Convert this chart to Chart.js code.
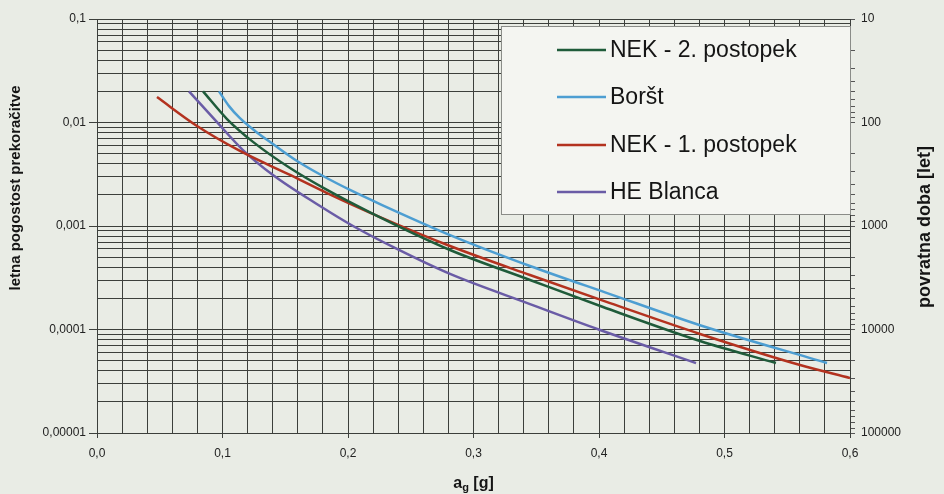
<!DOCTYPE html>
<html>
<head>
<meta charset="utf-8">
<script src="https://cdn.jsdelivr.net/npm/chart.js@4/dist/chart.umd.min.js"></script>
<style>
    html, body { margin: 0; padding: 0; background: #e9ece5; }
    #wrap { width: 944px; height: 494px; position: relative; }
</style>
</head>
<body>
<div id="wrap"><canvas id="chart" width="944" height="494"></canvas></div>
<script>
// ===============================
// DATA
// ===============================
const seriesNames = ["NEK - 2. postopek", "Boršt", "NEK - 1. postopek", "HE Blanca"];
const seriesColors = ["#1f5b3a", "#4d9ed2", "#b3321f", "#6a5ca6"];

// a_g [g] -> letna pogostost prekoračitve
const nek2X = [0.0845, 0.1036, 0.1243, 0.1538, 0.1833, 0.2199, 0.2813, 0.345, 0.4032, 0.4805, 0.541];
const nek2Y = [0.02, 0.0108, 0.0065, 0.00363, 0.00223, 0.00131, 0.000586, 0.000301, 0.000165, 0.0000774, 0.0000474];

const borstX = [0.0972, 0.1052, 0.1139, 0.1259, 0.1402, 0.1594, 0.1801, 0.2016, 0.2255, 0.2813, 0.345, 0.4088, 0.4805, 0.5817];
const borstY = [0.02, 0.0144, 0.011, 0.00828, 0.00619, 0.00425, 0.00304, 0.00223, 0.00163, 0.000818, 0.000411, 0.00022, 0.00011, 0.0000474];

const nek1X = [0.0478, 0.0797, 0.1139, 0.1538, 0.1833, 0.2255, 0.2813, 0.345, 0.4088, 0.4805, 0.5602, 0.6];
const nek1Y = [0.0176, 0.00925, 0.00531, 0.00311, 0.00208, 0.00122, 0.000641, 0.000336, 0.00018, 0.0000906, 0.0000454, 0.000034];

const blancaX = [0.0733, 0.094, 0.1163, 0.1402, 0.1777, 0.204, 0.239, 0.2813, 0.345, 0.4008, 0.4773];
const blancaY = [0.02, 0.0106, 0.00542, 0.00311, 0.00156, 0.001, 0.0006, 0.000344, 0.000176, 0.0000989, 0.0000474];

// tick labels
const xTickLabels = ["0,0", "0,1", "0,2", "0,3", "0,4", "0,5", "0,6"];
const yMajorValues = [0.1, 0.01, 0.001, 0.0001, 0.00001];
const yTickLabels = ["0,1", "0,01", "0,001", "0,0001", "0,00001"];
const periodValues = [10, 100, 1000, 10000, 100000];
const periodLabels = ["10", "100", "1000", "10000", "100000"];

const FONT = "'Liberation Sans', Arial, sans-serif";
const GRID = "#3c3f3b";

// ===============================
// HELPERS
// ===============================
function toPoints(xs, ys) {
    return xs.map((x, i) => ({ x: x, y: ys[i] }));
}

// 1..9 x 10^n med glavnimi vrednostmi
function logTicks(majors) {
    const sorted = majors.slice().sort((a, b) => a - b);
    const ticks = [];
    for (let i = 0; i < sorted.length - 1; i++) {
        for (let m = 1; m < 10; m++) {
            ticks.push({ value: parseFloat((m * sorted[i]).toPrecision(6)) });
        }
    }
    ticks.push({ value: sorted[sorted.length - 1] });
    return ticks;
}

function majorIndex(list, v) {
    return list.findIndex(m => Math.abs(v / m - 1) < 1e-6);
}

function isTenth(v) {
    return Math.abs(v * 10 - Math.round(v * 10)) < 1e-6;
}

// ===============================
// PLUGIN: naslovi osi + legenda
// ===============================
const decorPlugin = {
    id: "decor",
    afterDraw(chart) {
        const ctx = chart.ctx;
        const area = chart.chartArea;
        ctx.save();
        ctx.fillStyle = "#151515";

        // levi naslov
        ctx.save();
        ctx.translate(16, 188);
        ctx.rotate(-Math.PI / 2);
        ctx.font = "bold 15px " + FONT;
        ctx.textAlign = "center";
        ctx.textBaseline = "middle";
        ctx.fillText("letna pogostost prekoračitve", 0, 0);
        ctx.restore();

        // desni naslov
        ctx.save();
        ctx.translate(925, 227);
        ctx.rotate(-Math.PI / 2);
        ctx.font = "bold 18px " + FONT;
        ctx.textAlign = "center";
        ctx.textBaseline = "middle";
        ctx.fillText("povratna doba [let]", 0, 0);
        ctx.restore();

        // a_g [g]
        ctx.textBaseline = "alphabetic";
        ctx.textAlign = "left";
        ctx.font = "bold 16px " + FONT;
        const wA = ctx.measureText("a").width;
        const wRest = ctx.measureText(" [g]").width;
        ctx.font = "bold 11px " + FONT;
        const wSub = ctx.measureText("g").width;
        let tx = (area.left + area.right) / 2 - (wA + wSub + wRest) / 2;
        const ty = 488;
        ctx.font = "bold 16px " + FONT;
        ctx.fillText("a", tx, ty);
        ctx.font = "bold 11px " + FONT;
        ctx.fillText("g", tx + wA, ty + 3);
        ctx.font = "bold 16px " + FONT;
        ctx.fillText(" [g]", tx + wA + wSub, ty);

        // legenda
        const box = { left: 501, top: 26, right: area.right + 1, bottom: 215 };
        ctx.fillStyle = "#f4f5f1";
        ctx.fillRect(box.left, box.top, box.right - box.left, box.bottom - box.top);
        ctx.strokeStyle = "#8a8c88";
        ctx.lineWidth = 1;
        ctx.strokeRect(box.left + 0.5, box.top + 0.5, box.right - box.left - 1, box.bottom - box.top - 1);

        const rows = [50, 97, 145, 192];
        ctx.font = "23px " + FONT;
        ctx.textBaseline = "middle";
        chart.data.datasets.forEach((ds, i) => {
            ctx.strokeStyle = ds.borderColor;
            ctx.lineWidth = 2.5;
            ctx.beginPath();
            ctx.moveTo(557, rows[i]);
            ctx.lineTo(606, rows[i]);
            ctx.stroke();
            ctx.fillStyle = "#151515";
            ctx.fillText(ds.label, 610, rows[i] + 1);
        });
        ctx.restore();
    }
};

// ===============================
// CHART
// ===============================
const seriesData = [
    toPoints(nek2X, nek2Y),
    toPoints(borstX, borstY),
    toPoints(nek1X, nek1Y),
    toPoints(blancaX, blancaY)
];

new Chart(document.getElementById("chart"), {
    type: "line",
    data: {
        datasets: seriesNames.map((name, i) => ({
            label: name,
            data: seriesData[i],
            borderColor: seriesColors[i],
            borderWidth: 2.5,
            pointRadius: 0,
            fill: false,
            cubicInterpolationMode: "monotone",
            xAxisID: "x",
            yAxisID: "y"
        }))
    },
    options: {
        responsive: false,
        animation: false,
        layout: { padding: { top: 19, left: 0, right: 0, bottom: 0 } },
        plugins: {
            legend: { display: false },
            tooltip: { enabled: false }
        },
        scales: {
            x: {
                type: "linear",
                min: 0,
                max: 0.6,
                ticks: {
                    stepSize: 0.02,
                    autoSkip: false,
                    maxRotation: 0,
                    padding: 8,
                    color: "#222",
                    font: { size: 12, family: FONT },
                    callback: v => isTenth(v) ? xTickLabels[Math.round(v * 10)] : ""
                },
                grid: {
                    color: GRID,
                    lineWidth: 1,
                    tickLength: 5,
                    tickColor: c => (c.tick && isTenth(c.tick.value)) ? GRID : "rgba(0,0,0,0)"
                },
                border: { color: GRID },
                afterFit: s => { s.height = 61; }
            },
            y: {
                type: "logarithmic",
                position: "left",
                min: 0.00001,
                max: 0.1,
                afterBuildTicks: s => { s.ticks = logTicks(yMajorValues); },
                ticks: {
                    autoSkip: false,
                    padding: 3,
                    color: "#222",
                    font: { size: 12, family: FONT },
                    callback: v => {
                        const k = majorIndex(yMajorValues, v);
                        return k >= 0 ? yTickLabels[k] : "";
                    }
                },
                grid: {
                    color: GRID,
                    lineWidth: 1,
                    tickLength: 8,
                    tickColor: c => (c.tick && majorIndex(yMajorValues, c.tick.value) >= 0) ? GRID : "rgba(0,0,0,0)"
                },
                border: { color: GRID },
                afterFit: s => { s.width = 97; }
            },
            y2: {
                type: "logarithmic",
                position: "right",
                min: 10,
                max: 100000,
                reverse: true,
                afterBuildTicks: s => { s.ticks = logTicks(periodValues); },
                ticks: {
                    autoSkip: false,
                    padding: 6,
                    color: "#222",
                    font: { size: 12, family: FONT },
                    callback: v => {
                        const k = majorIndex(periodValues, v);
                        return k >= 0 ? periodLabels[k] : "";
                    }
                },
                grid: {
                    drawOnChartArea: false,
                    color: "#555",
                    tickLength: 5
                },
                border: { color: GRID },
                afterFit: s => { s.width = 94; }
            }
        }
    },
    plugins: [decorPlugin]
});
</script>
</body>
</html>
